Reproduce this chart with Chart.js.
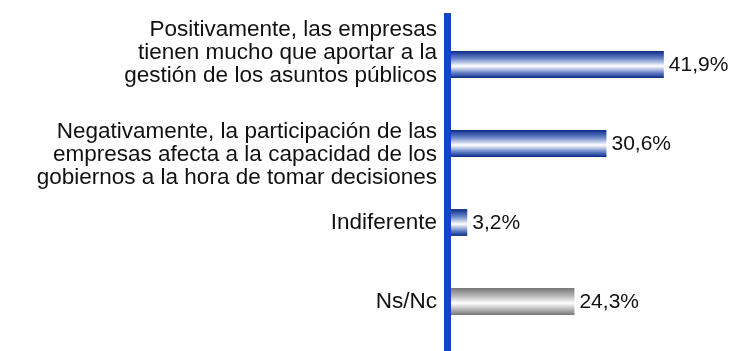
<!DOCTYPE html>
<html lang="es">
<head>
    <meta charset="UTF-8">
    <title>Participación de las empresas</title>
    <script src="https://cdn.jsdelivr.net/npm/chart.js@4.4.1/dist/chart.umd.min.js"></script>
    <style>
        html, body { margin: 0; padding: 0; background: #fff; }
        .wrap { width: 734px; height: 351px; }
    </style>
</head>
<body>
    <div class="wrap">
        <canvas id="opinionChart" width="734" height="351"></canvas>
    </div>

    <script>
        const categories = [
            ['Positivamente, las empresas', 'tienen mucho que aportar a la', 'gestión de los asuntos públicos'],
            ['Negativamente, la participación de las', 'empresas afecta a la capacidad de los', 'gobiernos a la hora de tomar decisiones'],
            'Indiferente',
            'Ns/Nc'
        ];
        const values = [41.9, 30.6, 3.2, 24.3];
        const barTones = ['blue', 'blue', 'blue', 'grey'];
        // -1 pushes a wrapped label up by half a line, +1 pushes it down
        const labelNudge = [-1, 1, 0, 0];

        const FONT = "'Liberation Sans', Arial, sans-serif";
        const BAR_PCT = 0.34;

        // stops for the "cylinder" look of each bar
        const toneStops = {
            blue: [[0, '#0a2b88'], [0.28, '#6a86c8'], [0.56, '#ffffff'], [0.8, '#6a86c8'], [1, '#0a2b88']],
            grey: [[0, '#777777'], [0.28, '#b4b4b4'], [0.56, '#ffffff'], [0.8, '#b4b4b4'], [1, '#777777']]
        };

        function barFill(ctx) {
            const chart = ctx.chart;
            const yScale = chart.scales.y;
            const stops = toneStops[barTones[ctx.dataIndex]];
            if (!yScale || !chart.chartArea) return stops[0][1];
            const yc = yScale.getPixelForValue(ctx.dataIndex);
            const half = yScale.height / categories.length * BAR_PCT / 2;
            const g = chart.ctx.createLinearGradient(0, yc - half, 0, yc + half);
            stops.forEach(s => g.addColorStop(s[0], s[1]));
            return g;
        }

        function tickLabel(value, index) {
            const l = categories[index];
            if (!Array.isArray(l)) return l;
            if (labelNudge[index] < 0) return [...l, ''];
            if (labelNudge[index] > 0) return ['', ...l];
            return l;
        }

        // thick blue line along the category axis
        const axisLine = {
            id: 'axisLine',
            afterDatasetsDraw(chart) {
                const c = chart.ctx;
                const x0 = chart.scales.x.getPixelForValue(0);
                c.save();
                c.fillStyle = '#1145c9';
                c.fillRect(x0 - 7, 13, 7, chart.height - 13);
                c.restore();
            }
        };

        // percentage next to each bar
        const valueLabels = {
            id: 'valueLabels',
            afterDatasetsDraw(chart) {
                const c = chart.ctx;
                const meta = chart.getDatasetMeta(0);
                c.save();
                c.font = '21px ' + FONT;
                c.fillStyle = '#111';
                c.textAlign = 'left';
                c.textBaseline = 'middle';
                meta.data.forEach((bar, i) => {
                    const txt = values[i].toFixed(1).replace('.', ',') + '%';
                    c.fillText(txt, bar.x + 5, bar.y + 1);
                });
                c.restore();
            }
        };

        new Chart(document.getElementById('opinionChart'), {
            type: 'bar',
            data: {
                labels: categories,
                datasets: [{
                    data: values,
                    backgroundColor: barFill,
                    borderWidth: 0,
                    barPercentage: BAR_PCT,
                    categoryPercentage: 1
                }]
            },
            options: {
                indexAxis: 'y',
                responsive: false,
                animation: false,
                layout: { padding: { top: 25, bottom: 10, right: 29, left: 0 } },
                plugins: {
                    legend: { display: false },
                    tooltip: { enabled: false }
                },
                scales: {
                    x: {
                        display: false,
                        min: 0,
                        max: 50
                    },
                    y: {
                        afterFit(scale) {
                            scale.width = 451;
                            scale.paddingTop = 0;
                            scale.paddingBottom = 0;
                        },
                        grid: { display: false, drawTicks: false },
                        border: { display: false },
                        ticks: {
                            autoSkip: false,
                            padding: 14,
                            color: '#111',
                            callback: tickLabel,
                            font: { family: FONT, size: 22.5, lineHeight: 1.03 }
                        }
                    }
                }
            },
            plugins: [axisLine, valueLabels]
        });
    </script>
</body>
</html>
